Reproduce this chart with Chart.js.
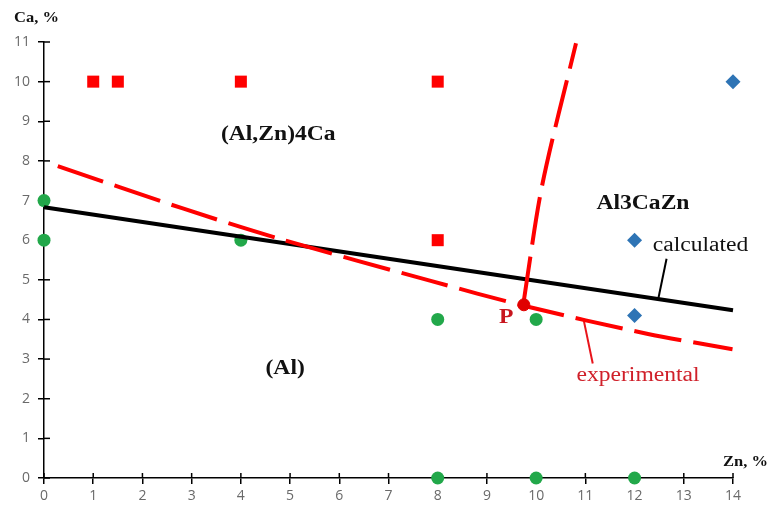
<!DOCTYPE html>
<html>
<head>
<meta charset="utf-8">
<script src="https://cdn.jsdelivr.net/npm/chart.js@4/dist/chart.umd.min.js"></script>
<style>
  html, body { margin: 0; padding: 0; background: #fff; }
  #wrap { width: 773px; height: 508px; }
</style>
</head>
<body>
<div id="wrap"><canvas id="chart" width="773" height="508"></canvas></div>
<script>
// ---- data (Zn %, Ca %) ----
const X_TICKS = [0, 1, 2, 3, 4, 5, 6, 7, 8, 9, 10, 11, 12, 13, 14];
const Y_TICKS = [0, 1, 2, 3, 4, 5, 6, 7, 8, 9, 10, 11];

const redSquares   = [[1, 10], [1.5, 10], [4, 10], [8, 10], [8, 6]];
const greenCircles = [[0, 7], [0, 6], [4, 6], [8, 4], [10, 4], [8, 0], [10, 0], [12, 0]];
const blueDiamonds = [[14, 10], [12, 6], [12, 4.1]];

const calculatedLine   = [[0, 6.83], [14, 4.23]];
const experimentalLine = [[0.28, 7.87], [2.82, 6.80], [4.80, 6.03], [7.84, 4.98], [9.77, 4.34], [12.25, 3.64], [13.99, 3.25]];
const verticalLine     = [[9.74, 4.39], [10.12, 7.37], [10.81, 10.97]];
const pointP           = [[9.75, 4.37]];

const calcLeader = [[12.48, 4.51], [12.65, 5.53]];
const expLeader  = [[10.96, 4.02], [11.15, 2.89]];

// text labels: [text, Zn, Ca, style]
const LABELS = [
  ['(Al,Zn)4Ca', 4.76, 8.66, 'region'],
  ['(Al)', 4.90, 2.76, 'region'],
  ['Al3CaZn', 12.17, 6.91, 'region'],
  ['calculated', 13.34, 5.86, 'calc'],
  ['experimental', 12.07, 2.59, 'exp'],
  ['P', 9.39, 4.04, 'p'],
];

const RED = '#ff0000';
const toXY = arr => arr.map(([x, y]) => ({ x, y }));

function lineSet(data, color, width, dash, order, tension) {
  return {
    data: toXY(data), showLine: true, borderColor: color, backgroundColor: color,
    borderWidth: width, borderDash: dash || [], pointRadius: 0, tension: tension || 0,
    order, borderCapStyle: 'butt', clip: false
  };
}

// inner half of the tick marks (under the markers), then axis titles and text labels on top
const extras = {
  id: 'extras',
  beforeDatasetsDraw(chart) {
    const { ctx, scales: { x, y } } = chart;
    ctx.save();
    ctx.strokeStyle = '#000';
    ctx.lineWidth = 1.5;
    X_TICKS.forEach(v => {
      const px = x.getPixelForValue(v);
      ctx.beginPath(); ctx.moveTo(px, y.bottom); ctx.lineTo(px, y.bottom - 5); ctx.stroke();
    });
    Y_TICKS.forEach(v => {
      const py = y.getPixelForValue(v);
      ctx.beginPath(); ctx.moveTo(x.left, py); ctx.lineTo(x.left + 6, py); ctx.stroke();
    });
    ctx.restore();
  },
  afterDatasetsDraw(chart) {
    const { ctx, scales: { x, y } } = chart;
    const styles = {
      region: { font: 'bold 20px "Liberation Serif"', color: '#111' },
      calc:   { font: '20px "Liberation Serif"', color: '#111' },
      exp:    { font: '20px "Liberation Serif"', color: '#d0202a' },
      p:      { font: 'bold 20px "Liberation Serif"', color: '#c8161e' },
      axis:   { font: 'bold 14px "Liberation Serif"', color: '#111' },
    };
    const put = (text, px, py, st, align) => {
      ctx.save();
      ctx.translate(px, py);
      ctx.scale(1.18, 1);
      ctx.font = styles[st].font;
      ctx.fillStyle = styles[st].color;
      ctx.textAlign = align || 'center';
      ctx.textBaseline = 'middle';
      ctx.fillText(text, 0, 0);
      ctx.restore();
    };
    LABELS.forEach(([t, zx, cy, st]) => put(t, x.getPixelForValue(zx), y.getPixelForValue(cy), st));
    put('Ca, %', x.left - 30, y.top - 24, 'axis', 'left');
    put('Zn, %', x.right - 10, y.bottom - 16, 'axis', 'left');
  }
};

const tickFont = { family: '"Open Sans"', size: 14, lineHeight: 1 };

new Chart(document.getElementById('chart'), {
  type: 'scatter',
  data: {
    datasets: [
      { data: toXY(pointP), pointStyle: 'circle', pointRadius: 6, backgroundColor: '#e00000', borderColor: '#e00000', order: 0, clip: false },
      lineSet(experimentalLine, RED, 4, [48, 12], 1, 0.3),
      lineSet(verticalLine, RED, 4, [48, 12], 2, 0.3),
      lineSet(calculatedLine, '#000', 4, null, 3),
      lineSet(calcLeader, '#000', 2, null, 4),
      lineSet(expLeader, '#e8141b', 2, null, 4),
      { data: toXY(greenCircles), pointStyle: 'circle', pointRadius: 6.5, backgroundColor: '#22a84a', borderColor: '#22a84a', borderWidth: 0, order: 5, clip: false },
      { data: toXY(redSquares), pointStyle: 'rect', pointRadius: 8.5, backgroundColor: RED, borderColor: RED, borderWidth: 0, order: 6, clip: false },
      { data: toXY(blueDiamonds), pointStyle: 'rectRot', pointRadius: 7.5, backgroundColor: '#2e74b5', borderColor: '#2e74b5', borderWidth: 0, order: 7, clip: false },
    ]
  },
  options: {
    responsive: false,
    animation: false,
    layout: { padding: { left: 6, right: 40, top: 42, bottom: 0 } },
    plugins: { legend: { display: false }, tooltip: { enabled: false } },
    scales: {
      x: {
        type: 'linear', min: 0, max: 14,
        afterBuildTicks: s => { s.ticks = X_TICKS.map(v => ({ value: v })); },
        grid: { drawOnChartArea: false, drawTicks: true, tickLength: 6, color: '#000', lineWidth: 1.5 },
        border: { color: '#000', width: 1.5 },
        ticks: { color: '#6a6a6a', font: tickFont, padding: 5, maxRotation: 0 }
      },
      y: {
        type: 'linear', min: 0, max: 11,
        afterBuildTicks: s => { s.ticks = Y_TICKS.map(v => ({ value: v })); },
        grid: { drawOnChartArea: false, drawTicks: true, tickLength: 6, color: '#000', lineWidth: 1.5 },
        border: { color: '#000', width: 1.5 },
        ticks: { color: '#6a6a6a', font: tickFont, padding: 8 }
      }
    }
  },
  plugins: [extras]
});
</script>
</body>
</html>
